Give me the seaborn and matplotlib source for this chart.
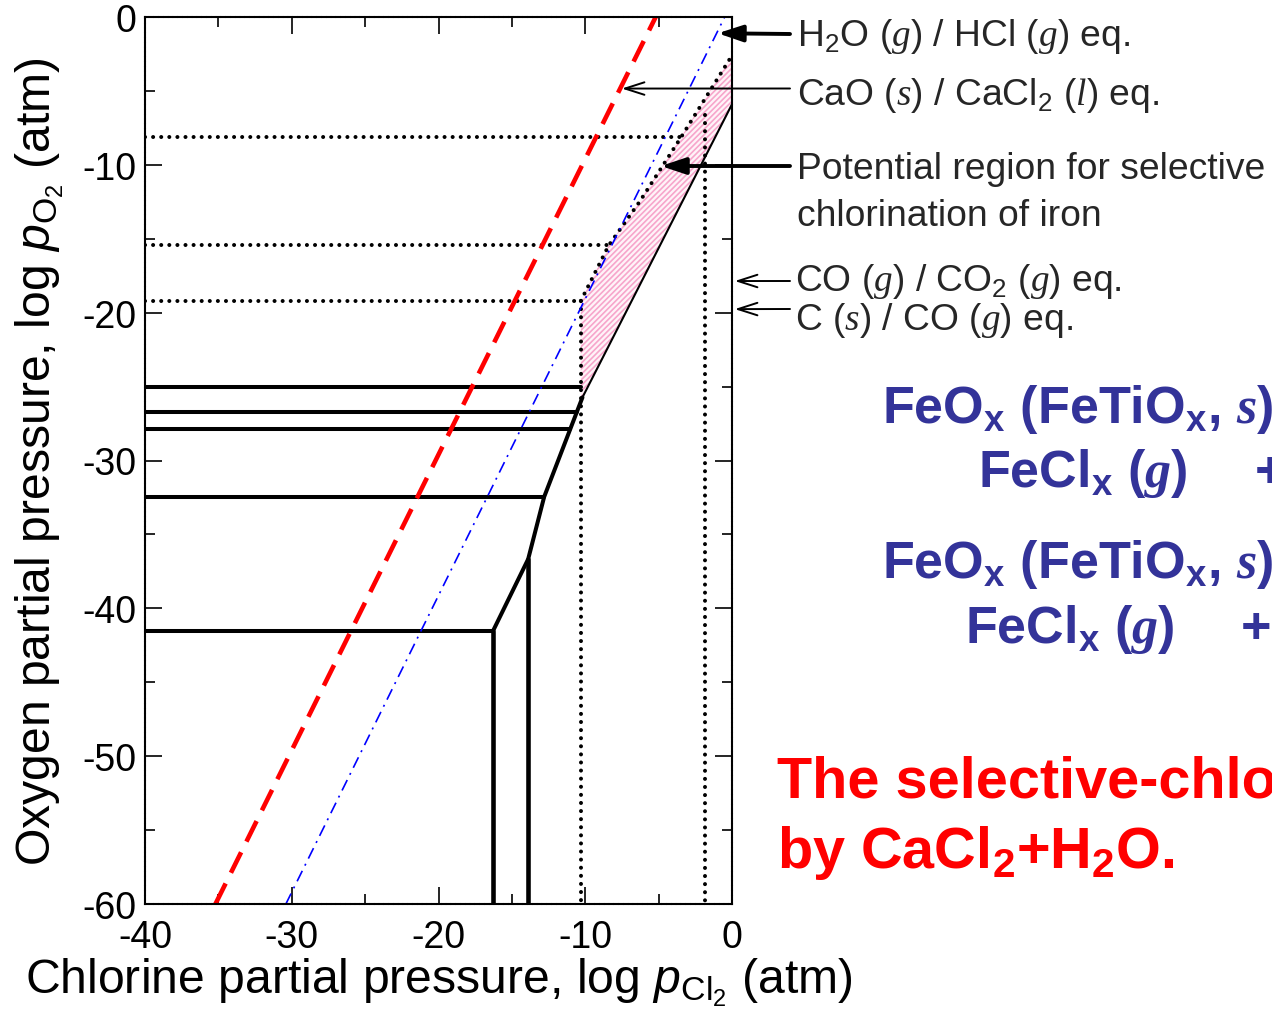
import numpy as np
import pandas as pd
import matplotlib
matplotlib.use("Agg")
import matplotlib.pyplot as plt
from matplotlib.ticker import MultipleLocator
import seaborn as sns

# ---------------- data (log pCl2, log pO2) ----------------
# CaO(s)/CaCl2(l) equilibrium (red dashed)
cao_x = [-35.2, -5.2]
cao_y = [-60.0, 0.0]
# H2O(g)/HCl(g) equilibrium (blue dash-dot)
h2o_x = [-30.4, -0.5]
h2o_y = [-60.0, 0.0]
# Fe-O-Cl boundary (thick black polyline)
fe_bound_x = [-16.28, -13.89, -12.80, -10.19]
fe_bound_y = [-41.52, -36.67, -32.46, -25.73]
# vertical thick boundaries
fe_vert_x = [-16.28, -13.89]
fe_vert_top = [-41.52, -36.67]
# horizontal thick boundaries
fe_hor_y = [-25.03, -26.75, -27.90, -32.46, -41.52]
fe_hor_xend = [-10.26, -10.59, -11.03, -12.80, -16.28]
# thin upper boundary of the potential region
thin_x = [-10.19, 0.0]
thin_y = [-25.73, -5.9]
# dotted lines
dot_hor_y = [-8.1, -15.45, -19.2]
dot_hor_xend = [-3.45, -8.4, -10.3]
dot_bound_x = [-10.3, -8.4, -6.3, -3.45, 0.0]
dot_bound_y = [-19.2, -15.45, -12.5, -8.1, -2.6]
dot_vert_x = [-10.3, -1.85]
dot_vert_top = [-19.2, -6.6]
x_ticks = [-40, -30, -20, -10, 0]
y_ticks = [-60, -50, -40, -30, -20, -10, 0]

sns.set_theme(style="white")
plt.rcParams.update({
    "font.family": ["Liberation Sans", "DejaVu Sans"],
    "axes.unicode_minus": False,
    "mathtext.fontset": "custom",
    "mathtext.rm": "Liberation Sans",
    "mathtext.it": "Liberation Serif:italic",
    "mathtext.bf": "Liberation Sans:bold",
    "mathtext.sf": "Liberation Sans:italic",
    "mathtext.default": "regular",
    "hatch.linewidth": 1.2,
})
has_bfit = "mathtext.bfit" in plt.rcParams
if has_bfit:
    plt.rcParams["mathtext.bfit"] = "Liberation Serif:italic:bold"
BIT = r"\mathbfit" if has_bfit else r"\mathit"

W, H = 1272, 1012
fig = plt.figure(figsize=(W / 100, H / 100), dpi=100)
fig.patch.set_facecolor("white")
ax = fig.add_axes([145 / W, 107 / H, 587 / W, 887 / H])
ax.set_facecolor("white")

# pink hatched potential region
poly_x = dot_bound_x + [thin_x[1], thin_x[0], dot_bound_x[0]]
poly_y = dot_bound_y + [thin_y[1], thin_y[0], thin_y[0]]
ax.fill(poly_x, poly_y, facecolor="#fff4f8", edgecolor="#f7a6cb",
        hatch="//////", linewidth=0, zorder=1)

# thick black boundaries (long-form frame)
rows = []
rows += [dict(seg="bound", x=x, y=y) for x, y in zip(fe_bound_x, fe_bound_y)]
for i, (yv, xe) in enumerate(zip(fe_hor_y, fe_hor_xend)):
    rows += [dict(seg=f"h{i}", x=-40.0, y=yv), dict(seg=f"h{i}", x=xe, y=yv)]
thick = pd.DataFrame(rows)
sns.lineplot(data=thick, x="x", y="y", units="seg", estimator=None, sort=False,
             color="black", lw=2.9, ax=ax, zorder=4)
vrows = []
for i, (xv, yt) in enumerate(zip(fe_vert_x, fe_vert_top)):
    vrows += [dict(seg=f"v{i}", x=xv, y=yt), dict(seg=f"v{i}", x=xv, y=-60.0)]
vert = pd.DataFrame(vrows)
sns.lineplot(data=vert, x="x", y="y", units="seg", estimator=None, sort=False,
             color="black", lw=3.3, ax=ax, zorder=4)

# thin black line
sns.lineplot(x=thin_x, y=thin_y, sort=False, estimator=None, color="black",
             lw=1.5, ax=ax, zorder=4)

# dotted lines
drows = [dict(seg="b", x=x, y=y) for x, y in zip(dot_bound_x, dot_bound_y)]
for i, (yv, xe) in enumerate(zip(dot_hor_y, dot_hor_xend)):
    drows += [dict(seg=f"h{i}", x=-40.0, y=yv), dict(seg=f"h{i}", x=xe, y=yv)]
for i, (xv, yt) in enumerate(zip(dot_vert_x, dot_vert_top)):
    drows += [dict(seg=f"v{i}", x=xv, y=yt), dict(seg=f"v{i}", x=xv, y=-60.0)]
dots = pd.DataFrame(drows)
sns.lineplot(data=dots, x="x", y="y", units="seg", estimator=None, sort=False,
             color="black", lw=2.9, linestyle=(0, (0.01, 2.0)),
             dash_capstyle="round", ax=ax, zorder=3)

# equilibrium lines
sns.lineplot(x=cao_x, y=cao_y, sort=False, estimator=None, color="#ff0000",
             lw=3.3, linestyle=(0, (5, 2.6)), ax=ax, zorder=5)
sns.lineplot(x=h2o_x, y=h2o_y, sort=False, estimator=None, color="#0000ff",
             lw=1.2, linestyle=(0, (7, 3.5, 1.2, 3.5)), ax=ax, zorder=5)

ax.set_xlim(-40, 0)
ax.set_ylim(-60, 0)
ax.set_xticks(x_ticks)
ax.set_yticks(y_ticks)
ax.xaxis.set_minor_locator(MultipleLocator(5))
ax.yaxis.set_minor_locator(MultipleLocator(5))
ax.tick_params(which="major", direction="in", length=12, width=1.2,
               top=True, right=True, bottom=True, left=True,
               labelsize=27, color="black", labelcolor="black")
ax.tick_params(axis="x", which="major", pad=11)
ax.tick_params(axis="y", which="major", pad=6)
ax.tick_params(which="minor", direction="in", length=7, width=1.2,
               top=True, right=True, bottom=True, left=True, color="black")
for s in ax.spines.values():
    s.set_color("black")
    s.set_linewidth(1.5)
    s.set_linestyle((0, (1.5, 0.8)))
    s.set_zorder(6)

ax.set_xlabel(r"Chlorine partial pressure, log $\mathsf{p}_{\mathrm{Cl}_2}$ (atm)",
              fontsize=34.7, color="black", labelpad=0)
ax.set_ylabel(r"Oxygen partial pressure, log $\mathsf{p}_{\mathrm{O}_2}$ (atm)",
              fontsize=34.7, color="black", labelpad=12)


def ftext(xp, yp, s, **kw):
    fig.text(xp / W, 1 - yp / H, s, va="baseline", ha="left", **kw)


def arrow(tip, yp, thick):
    if thick:
        props = dict(arrowstyle="-|>,head_length=1.5,head_width=0.5", lw=2.8,
                     color="black", shrinkA=0, shrinkB=0, mutation_scale=10)
    else:
        props = dict(arrowstyle="->,head_length=1.4,head_width=0.45", lw=1.4,
                     color="black", shrinkA=0, shrinkB=0, mutation_scale=10)
    ax.annotate("", xy=tip, xycoords="data", xytext=(790, H - yp),
                textcoords="figure pixels", arrowprops=props,
                annotation_clip=False)


arrow((-0.97, -1.1), 35, True)
arrow((-7.51, -4.84), 89.5, False)
arrow((-4.85, -10.08), 167, True)
arrow((0.19, -17.86), 282, False)
arrow((0.19, -19.76), 310, False)

afs = 26.8
ftext(797, 46, r"H$_2$O ($\mathit{g}$) / HCl ($\mathit{g}$) eq.", fontsize=afs)
ftext(797, 105, r"CaO ($\mathit{s}$) / CaCl$_2$ ($\mathit{l}$) eq.", fontsize=afs)
ftext(797, 179, "Potential region for selective", fontsize=afs)
ftext(797, 226, "chlorination of iron", fontsize=afs)
ftext(795, 291, r"CO ($\mathit{g}$) / CO$_2$ ($\mathit{g}$) eq.", fontsize=afs)
ftext(795, 330, r"C ($\mathit{s}$) / CO ($\mathit{g}$) eq.", fontsize=afs)

blue = "#333399"
bfs = 37.5
ftext(882, 423, r"FeO$_x$ (FeTiO$_x$, $" + BIT + r"{s}$)", fontsize=bfs,
      fontweight="bold", color=blue)
ftext(978, 487, r"FeCl$_x$ ($" + BIT + r"{g}$)", fontsize=bfs,
      fontweight="bold", color=blue)
ftext(1255, 487, "+", fontsize=bfs, fontweight="bold", color=blue)
ftext(882, 578, r"FeO$_x$ (FeTiO$_x$, $" + BIT + r"{s}$)", fontsize=bfs,
      fontweight="bold", color=blue)
ftext(965, 643, r"FeCl$_x$ ($" + BIT + r"{g}$)", fontsize=bfs,
      fontweight="bold", color=blue)
ftext(1241, 643, "+", fontsize=bfs, fontweight="bold", color=blue)

rfs = 41.5
ftext(777, 798, "The selective-chlorination", fontsize=rfs, fontweight="bold",
      color="#ff0000")
ftext(777, 868, r"by CaCl$_2$+H$_2$O.", fontsize=rfs, fontweight="bold",
      color="#ff0000")

fig.savefig("out.png", dpi=100)
